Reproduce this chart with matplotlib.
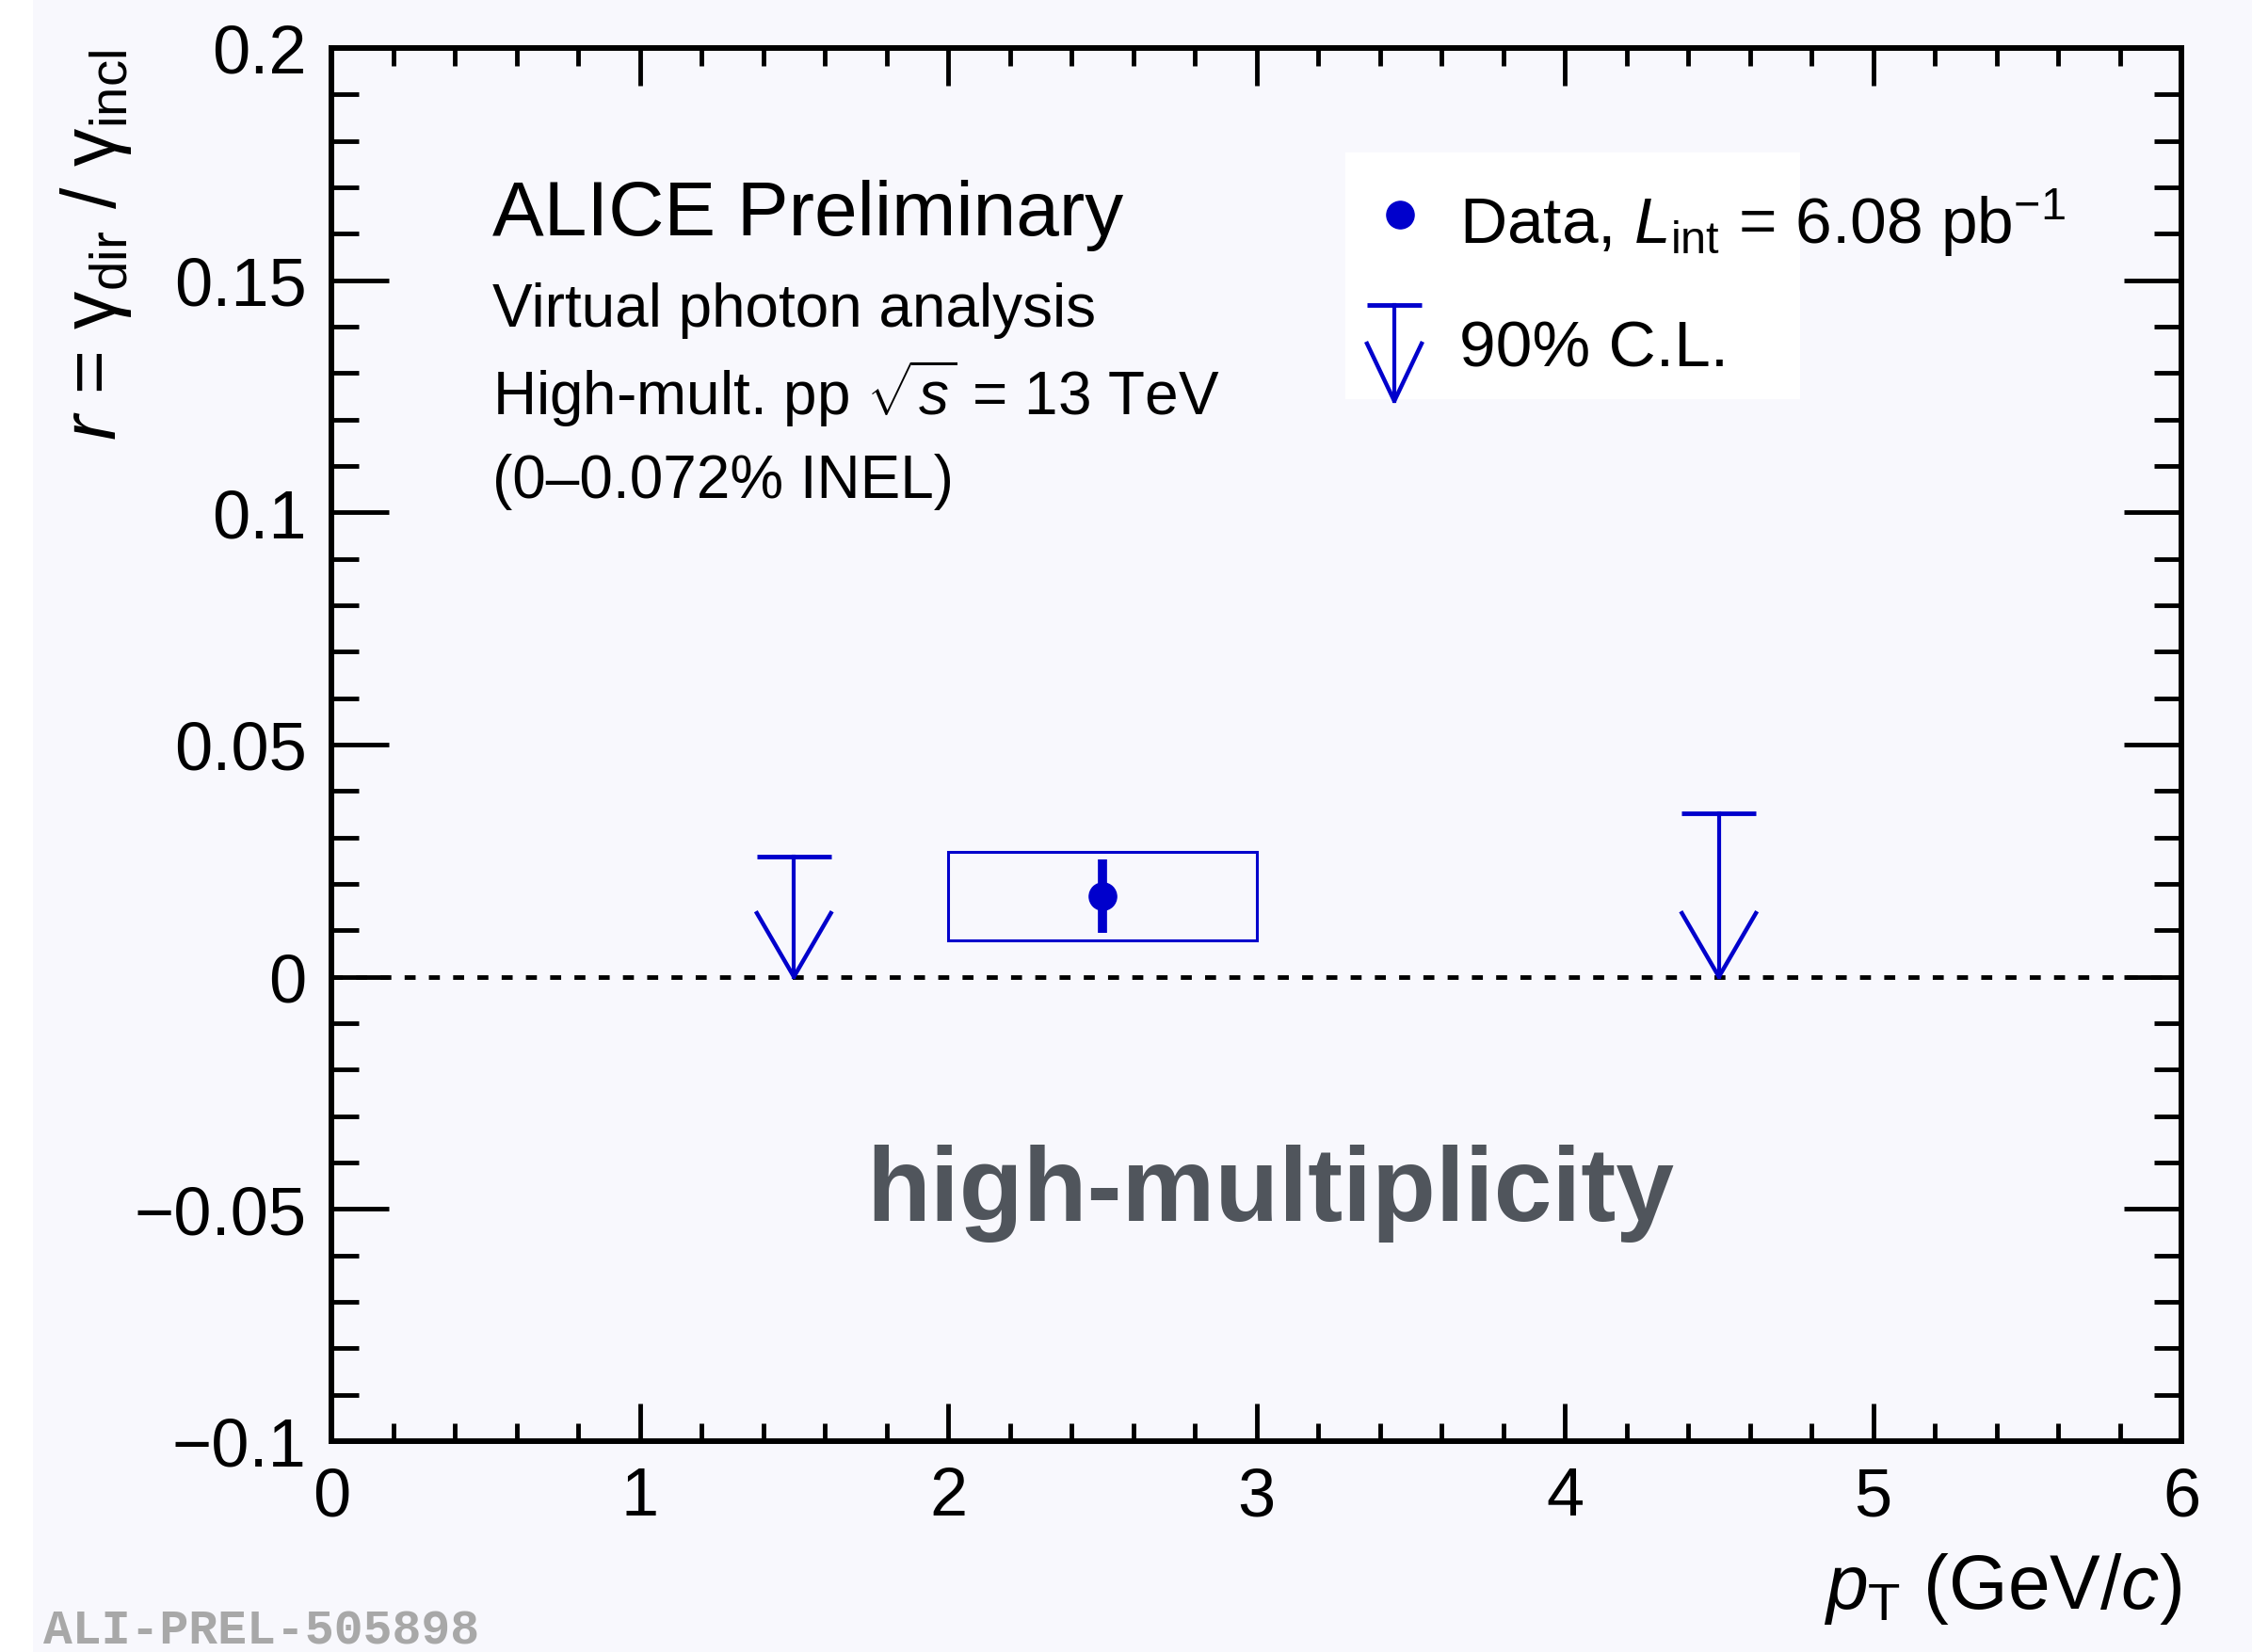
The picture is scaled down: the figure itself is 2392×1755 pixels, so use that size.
import numpy as np
import matplotlib
matplotlib.use("Agg")
import matplotlib.pyplot as plt
from matplotlib.patches import Rectangle
from matplotlib.lines import Line2D
from matplotlib.ticker import MultipleLocator, FuncFormatter

# ── Data ──────────────────────────────────────────────────────────────────────
pt_points   = [2.5]        # measured bin centre (GeV/c)
r_points    = [0.0174]     # r = gamma_dir / gamma_incl
r_stat      = [0.0079]     # statistical error
r_sys       = [0.0095]     # systematic error (box)
bin_half    = [0.5]        # half bin width for the sys box

pt_limits   = [1.5, 4.5]   # bins with 90% C.L. upper limits
r_limits    = [0.0259, 0.0353]

x_ticks     = [0, 1, 2, 3, 4, 5, 6]

# ── Style ─────────────────────────────────────────────────────────────────────
W, H, DPI = 2392, 1756, 100
BLUE = "#0000cc"
BG = "#f8f8fd"

plt.rcParams["font.family"] = ["Liberation Sans", "DejaVu Sans"]
plt.rcParams["mathtext.fontset"] = "custom"
plt.rcParams["mathtext.rm"] = "Liberation Sans"
plt.rcParams["mathtext.it"] = "Liberation Sans:italic"
plt.rcParams["mathtext.bf"] = "Liberation Sans:bold"


def fx(px):
    return px / W


def fy(py):
    return 1 - py / H


fig = plt.figure(figsize=(W / DPI, H / DPI), dpi=DPI, facecolor="white")
fig.add_artist(Rectangle((fx(35), 0), 1 - fx(35), 1, transform=fig.transFigure,
                         facecolor=BG, edgecolor="none", zorder=-10))

ax = fig.add_axes([fx(352), fy(1532), fx(2317) - fx(352), fy(52) - fy(1532)])
ax.set_facecolor(BG)
ax.set_xlim(0, 6)
ax.set_ylim(-0.1, 0.2)

for s in ax.spines.values():
    s.set_linewidth(4.3)

ax.xaxis.set_major_locator(MultipleLocator(1))
ax.xaxis.set_minor_locator(MultipleLocator(0.2))
ax.yaxis.set_major_locator(MultipleLocator(0.05))
ax.yaxis.set_minor_locator(MultipleLocator(0.01))
ax.set_xticks(x_ticks)
ax.yaxis.set_major_formatter(FuncFormatter(lambda v, _: f"{v:g}".replace("-", "\u2212")))

ax.tick_params(which="both", direction="in", top=True, right=True,
               labelsize=52, width=3.5)
ax.tick_params(axis="x", which="major", length=29, pad=19)
ax.tick_params(axis="x", which="minor", length=14)
ax.tick_params(axis="y", which="major", length=44, pad=19)
ax.tick_params(axis="y", which="minor", length=21)

# zero line
ax.axhline(0, color="black", lw=3.5, ls=(0, (2.4, 2.9)), zorder=1)

# systematic box + statistical error bar
for x, y, sy, hw in zip(pt_points, r_points, r_sys, bin_half):
    ax.add_patch(Rectangle((x - hw, y - sy), 2 * hw, 2 * sy, fill=False,
                           edgecolor=BLUE, lw=2.2, zorder=3))
ax.errorbar(pt_points, r_points, yerr=r_stat, fmt="o", ms=21, color=BLUE,
            elinewidth=7, capsize=0, zorder=4)

# upper limits: cap, stem down to zero, open arrowhead
cap_hw, head_hw, head_h = 0.12, 0.12, 0.0137
for x, ul in zip(pt_limits, r_limits):
    ax.plot([x - cap_hw, x + cap_hw], [ul, ul], color=BLUE, lw=3.5,
            solid_capstyle="butt", zorder=3)
    ax.plot([x, x], [ul, 0], color=BLUE, lw=3.0, zorder=3)
    ax.plot([x - head_hw, x, x + head_hw], [head_h, 0, head_h], color=BLUE,
            lw=3.2, zorder=3)

# ── Legend (white panel, drawn in figure pixels) ─────────────────────────────
fig.add_artist(Rectangle((fx(1429), fy(425)), fx(1912) - fx(1429), fy(163) - fy(425),
                         transform=fig.transFigure, facecolor="white",
                         edgecolor="none", zorder=5))
fig.add_artist(Line2D([fx(1487)], [fy(229)], marker="o", ms=21, color=BLUE,
                      transform=fig.transFigure, zorder=6))
fig.add_artist(Line2D([fx(1452), fx(1510)], [fy(325), fy(325)], color=BLUE, lw=3.5,
                      solid_capstyle="butt", transform=fig.transFigure, zorder=6))
fig.add_artist(Line2D([fx(1481), fx(1481)], [fy(325), fy(427)], color=BLUE, lw=3.0,
                      transform=fig.transFigure, zorder=6))
fig.add_artist(Line2D([fx(1452), fx(1481), fx(1510)], [fy(366), fy(427), fy(366)],
                      color=BLUE, lw=3.2, transform=fig.transFigure, zorder=6))
fig.text(fx(1550), fy(259), r"Data, $L_{\rm int}$ = 6.08 pb$^{-1}$",
         fontsize=50, va="baseline", ha="left", zorder=7)
fig.text(fx(1550), fy(390), "90% C.L.", fontsize=50, va="baseline", ha="left", zorder=7)

# ── Labels ────────────────────────────────────────────────────────────────────
fig.text(fx(523), fy(250), "ALICE Preliminary", fontsize=59, va="baseline")
fig.text(fx(523), fy(347), "Virtual photon analysis", fontsize=46, va="baseline")
fig.text(fx(523), fy(441), r"High-mult. pp $\sqrt{s}$ = 13 TeV", fontsize=46, va="baseline")
fig.text(fx(523), fy(529), "(0\u20130.072% INEL)", fontsize=46, va="baseline")

fig.text(fx(1349), fy(1297), "high-multiplicity", fontsize=80, fontweight="bold",
         color="#50555c", ha="center", va="baseline")

fig.text(fx(2317), fy(1709), r"$p_{\rm T}$ (GeV/$c$)", fontsize=58,
         ha="right", va="baseline")
fig.text(fx(102), fy(53), r"$r$ = γ$_{\rm dir}$ / γ$_{\rm incl}$", fontsize=58,
         rotation=90, ha="center", va="top")

fig.text(fx(46), fy(1747), "ALI-PREL-505898", fontsize=37, fontweight="bold",
         family="Liberation Mono", color="#a8a8a8", va="baseline")

fig.savefig("out.png", dpi=DPI, facecolor=fig.get_facecolor())
